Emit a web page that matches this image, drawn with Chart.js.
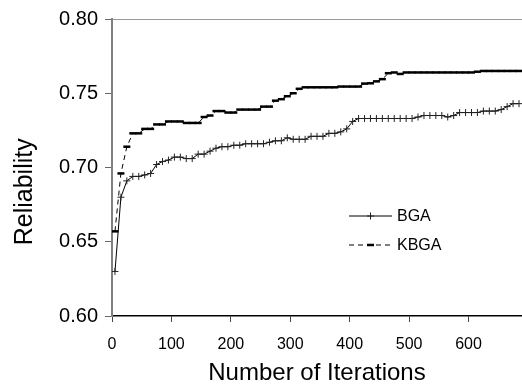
<!DOCTYPE html>
<html>
<head>
<meta charset="utf-8">
<script src="https://cdn.jsdelivr.net/npm/chart.js@4/dist/chart.umd.min.js"></script>
<style>
    html, body { margin: 0; padding: 0; background: #fff; }
    canvas { display: block; }
</style>
</head>
<body>
<canvas id="relChart" width="522" height="389"></canvas>
<script>
// iterations where the curves were sampled
var iterations = [5, 15, 25, 35, 45, 55, 65, 75, 85, 95,
    105, 115, 125, 135, 145, 155, 165, 175, 185, 195,
    205, 215, 225, 235, 245, 255, 265, 275, 285, 295,
    305, 315, 325, 335, 345, 355, 365, 375, 385, 395,
    405, 415, 425, 435, 445, 455, 465, 475, 485, 495,
    505, 515, 525, 535, 545, 555, 565, 575, 585, 595,
    605, 615, 625, 635, 645, 655, 665, 675, 685];

var bga = [0.630, 0.680, 0.691, 0.694, 0.694, 0.695, 0.696, 0.702, 0.704, 0.705,
    0.707, 0.707, 0.706, 0.706, 0.709, 0.709, 0.711, 0.713, 0.714, 0.714,
    0.715, 0.715, 0.716, 0.716, 0.716, 0.716, 0.717, 0.718, 0.718, 0.720,
    0.719, 0.719, 0.719, 0.721, 0.721, 0.721, 0.723, 0.723, 0.724, 0.726,
    0.731, 0.733, 0.733, 0.733, 0.733, 0.733, 0.733, 0.733, 0.733, 0.733,
    0.733, 0.734, 0.735, 0.735, 0.735, 0.735, 0.734, 0.735, 0.737, 0.737,
    0.737, 0.737, 0.738, 0.738, 0.738, 0.739, 0.741, 0.743, 0.743];

var kbga = [0.657, 0.696, 0.714, 0.723, 0.723, 0.726, 0.726, 0.729, 0.729, 0.731,
    0.731, 0.731, 0.730, 0.730, 0.730, 0.734, 0.735, 0.738, 0.738, 0.737,
    0.737, 0.739, 0.739, 0.739, 0.739, 0.741, 0.741, 0.745, 0.746, 0.748,
    0.750, 0.753, 0.754, 0.754, 0.754, 0.754, 0.754, 0.754, 0.7545, 0.7545,
    0.7545, 0.7545, 0.7565, 0.7567, 0.758, 0.7595, 0.7635, 0.764, 0.763, 0.764,
    0.764, 0.764, 0.764, 0.764, 0.764, 0.764, 0.764, 0.764, 0.764, 0.764,
    0.764, 0.7645, 0.765, 0.765, 0.765, 0.765, 0.765, 0.765, 0.765];

var seriesNames = ["BGA", "KBGA"];
var xTicks = [0, 100, 200, 300, 400, 500, 600];
var yTicks = [0.60, 0.65, 0.70, 0.75, 0.80];

function toPoints(vals) {
    return vals.map(function(v, i) { return { x: iterations[i], y: v }; });
}

var FONT = "'Liberation Sans', Arial, sans-serif";

// legend drawn inside the plot, like the original
var innerLegend = {
    id: 'innerLegend',
    afterDatasetsDraw: function(chart) {
        var ctx = chart.ctx;
        var area = chart.chartArea;
        var x0 = area.left + 237;
        var y0 = area.top + 197;
        ctx.save();
        chart.data.datasets.forEach(function(ds, i) {
            var y = y0 + i * 29;
            ctx.strokeStyle = ds.borderColor;
            ctx.lineWidth = ds.borderWidth;
            ctx.setLineDash(ds.borderDash || []);
            ctx.beginPath();
            ctx.moveTo(x0, y);
            ctx.lineTo(x0 + 43, y);
            ctx.stroke();
            ctx.setLineDash([]);
            var mx = x0 + 21.5;
            ctx.strokeStyle = ds.pointBorderColor;
            ctx.lineWidth = ds.pointBorderWidth;
            ctx.beginPath();
            if (ds.pointStyle === 'cross') {
                ctx.moveTo(mx - ds.pointRadius, y);
                ctx.lineTo(mx + ds.pointRadius, y);
                ctx.moveTo(mx, y - ds.pointRadius);
                ctx.lineTo(mx, y + ds.pointRadius);
            } else {
                ctx.moveTo(mx - ds.pointRadius, y);
                ctx.lineTo(mx + ds.pointRadius, y);
            }
            ctx.stroke();
            ctx.fillStyle = '#000';
            ctx.font = '16px ' + FONT;
            ctx.textBaseline = 'middle';
            ctx.textAlign = 'left';
            ctx.fillText(ds.label, x0 + 48, y + 1);
        });
        ctx.restore();
    }
};

var ctx = document.getElementById("relChart");
new Chart(ctx, {
    type: 'line',
    data: {
        datasets: [{
            label: seriesNames[0],
            data: toPoints(bga),
            borderColor: '#000',
            borderWidth: 1,
            pointStyle: 'cross',
            pointRadius: 3.5,
            pointBorderColor: '#222',
            pointBorderWidth: 1,
            tension: 0,
            fill: false
        }, {
            label: seriesNames[1],
            data: toPoints(kbga),
            borderColor: '#000',
            borderWidth: 1,
            borderDash: [5, 4],
            pointStyle: 'line',
            pointRadius: 3.5,
            pointBorderColor: '#000',
            pointBorderWidth: 2.5,
            tension: 0,
            fill: false
        }]
    },
    options: {
        responsive: false,
        animation: false,
        layout: { padding: 0, autoPadding: false },
        plugins: {
            legend: { display: false },
            tooltip: { enabled: false }
        },
        scales: {
            x: {
                type: 'linear',
                position: 'bottom',
                min: 0,
                max: 690,
                afterBuildTicks: function(scale) {
                    scale.ticks = xTicks.map(function(v) { return { value: v }; });
                },
                afterFit: function(scale) { scale.height = 73; },
                ticks: {
                    color: '#000',
                    font: { family: FONT, size: 16 },
                    padding: 13,
                    maxRotation: 0
                },
                grid: {
                    drawOnChartArea: false,
                    tickLength: 6,
                    color: '#444'
                },
                border: { color: '#000', width: 1.5 },
                title: {
                    display: true,
                    text: 'Number of Iterations',
                    color: '#000',
                    font: { family: FONT, size: 24 },
                    padding: { top: 0, bottom: 1 }
                }
            },
            xTop: {
                type: 'linear',
                position: 'top',
                min: 0,
                max: 690,
                afterFit: function(scale) { scale.height = 17; },
                ticks: { display: false },
                grid: { display: false },
                border: { display: true, color: '#999', width: 1 }
            },
            y: {
                min: 0.6,
                max: 0.8,
                afterBuildTicks: function(scale) {
                    scale.ticks = yTicks.map(function(v) { return { value: v }; });
                },
                afterFit: function(scale) { scale.width = 112; },
                ticks: {
                    color: '#000',
                    font: { family: FONT, size: 20 },
                    padding: 7,
                    callback: function(v) { return v.toFixed(2); }
                },
                grid: {
                    drawOnChartArea: false,
                    tickLength: 7,
                    color: '#666'
                },
                border: { color: '#808080', width: 2 },
                title: {
                    display: true,
                    text: 'Reliability       ',
                    color: '#000',
                    font: { family: FONT, size: 25 },
                    padding: { top: 10, bottom: 0 }
                }
            }
        }
    },
    plugins: [innerLegend]
});
</script>
</body>
</html>
